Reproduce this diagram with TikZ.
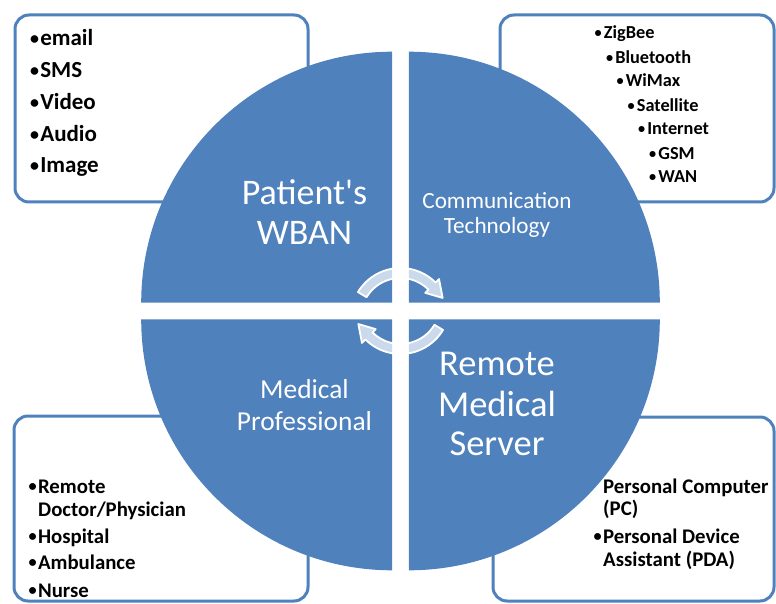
\documentclass[tikz,border=0pt]{standalone}
\usepackage{fontspec}
\setmainfont{Carlito}[Ligatures=TeXOff]
\definecolor{wblue}{HTML}{4F81BD}
\newcommand\bul[1]{\makebox[#1][l]{\raisebox{0.07em}{\scalebox{0.78}{•}}}}
\begin{document}
\begin{tikzpicture}[x=1pt,y=1pt,
  box/.style={draw=wblue, line width=3pt, rounded corners=14pt, fill=white},
  quad/.style={fill=wblue},
  itemL/.style={anchor=base west, inner sep=0pt, font=\fontsize{23}{27}\selectfont\bfseries},
  itemT/.style={anchor=base west, inner sep=0pt, font=\fontsize{18.3}{22}\selectfont\bfseries},
  itemB/.style={anchor=base west, inner sep=0pt, font=\fontsize{20.8}{25}\selectfont\bfseries},
  lab/.style={anchor=base, inner sep=0pt, text=white},
  cyc/.style={fill=white, fill opacity=0.7, draw=white, line width=1.8pt, line join=round}
]
\useasboundingbox (0,0) rectangle (776,603);

% boxes
\draw[box] (15,401) rectangle (308,588);
\draw[box] (500,401) rectangle (774,588);
\draw[box] (14,2) rectangle (308,187);
\draw[box] (493,2) rectangle (774,186);

% top-left items
\node[itemL] (e1) at (30,557) {\bul{0.44em}email};
\node[itemL] (e2) at (30,525) {\bul{0.44em}SMS};
\node[itemL] (e3) at (30,493) {\bul{0.44em}Video};
\node[itemL] (e4) at (30,461) {\bul{0.44em}Audio};
\node[itemL] (e5) at (30,430) {\bul{0.44em}Image};

% top-right items
\node[itemT] (t1) at (594.5,564) {\bul{0.5em}ZigBee};
\node[itemT] (t2) at (606,539) {\bul{0.5em}Bluetooth};
\node[itemT] (t3) at (616.5,516) {\bul{0.5em}WiMax};
\node[itemT] (t4) at (627.5,491) {\bul{0.5em}Satellite};
\node[itemT] (t5) at (638,468) {\bul{0.5em}Internet};
\node[itemT] (t6) at (649,443) {\bul{0.5em}GSM};
\node[itemT] (t7) at (649,420) {\bul{0.5em}WAN};

% bottom-left items
\node[itemB] (b1) at (28.5,110) {\bul{0.45em}Remote};
\node[itemB] (b1b) at (38,87) {Doctor/Physician};
\node[itemB] (b2) at (28.5,60) {\bul{0.45em}Hospital};
\node[itemB] (b3) at (28.5,34) {\bul{0.45em}Ambulance};
\node[itemB] (b4) at (28.5,6) {\bul{0.45em}Nurse};

% bottom-right items
\node[itemB] (r1) at (603,110) {Personal Computer};
\node[itemB] (r1b) at (603,88) {(PC)};
\node[itemB] (r2) at (593.5,60) {\bul{0.45em}Personal Device};
\node[itemB] (r2b) at (603,37) {Assistant (PDA)};

% quadrants
\fill[quad] (392.2,300.3) -- ++(-251,0) arc[start angle=180, end angle=90, radius=251] -- cycle;
\fill[quad] (408.8,300.3) -- ++(0,251) arc[start angle=90, end angle=0, radius=251] -- cycle;
\fill[quad] (392.2,283.7) -- ++(0,-251) arc[start angle=270, end angle=180, radius=251] -- cycle;
\fill[quad] (408.8,283.7) -- ++(251,0) arc[start angle=0, end angle=-90, radius=251] -- cycle;

% quadrant labels
\node[lab, font=\fontsize{36}{40}\selectfont] (p1) at (304.5,398) {Patient's};
\node[lab, font=\fontsize{36}{40}\selectfont] (p2) at (304.5,358) {WBAN};
\node[lab, font=\fontsize{23.2}{25}\selectfont] (c1) at (497,394.7) {Communication};
\node[lab, font=\fontsize{23.2}{25}\selectfont] (c2) at (497,369.7) {Technology};
\node[lab, font=\fontsize{27.4}{31}\selectfont] (m1) at (304.5,204.7) {Medical};
\node[lab, font=\fontsize{27.4}{31}\selectfont] (m2) at (304.5,173) {Professional};
\node[lab, font=\fontsize{36.5}{40}\selectfont] (s1) at (497,228) {Remote};
\node[lab, font=\fontsize{36.5}{40}\selectfont] (s2) at (497,187) {Medical};
\node[lab, font=\fontsize{36.5}{40}\selectfont] (s3) at (497,148) {Server};

% cycle arrows
\begin{scope}[shift={(400.5,285.4)}]
\path[cyc] (149:49.6) arc[start angle=149, end angle=45, radius=49.6]
  -- (45:54.5) -- (25:46.5) -- (45:35) -- (45:39.6)
  arc[start angle=45, end angle=149, radius=39.6] -- cycle;
\end{scope}
\begin{scope}[shift={(400.5,298.6)}]
\path[cyc] (329:49.6) arc[start angle=329, end angle=225, radius=49.6]
  -- (225:54.5) -- (205:46.5) -- (225:35) -- (225:39.6)
  arc[start angle=225, end angle=329, radius=39.6] -- cycle;
\end{scope}
\end{tikzpicture}
\end{document}
